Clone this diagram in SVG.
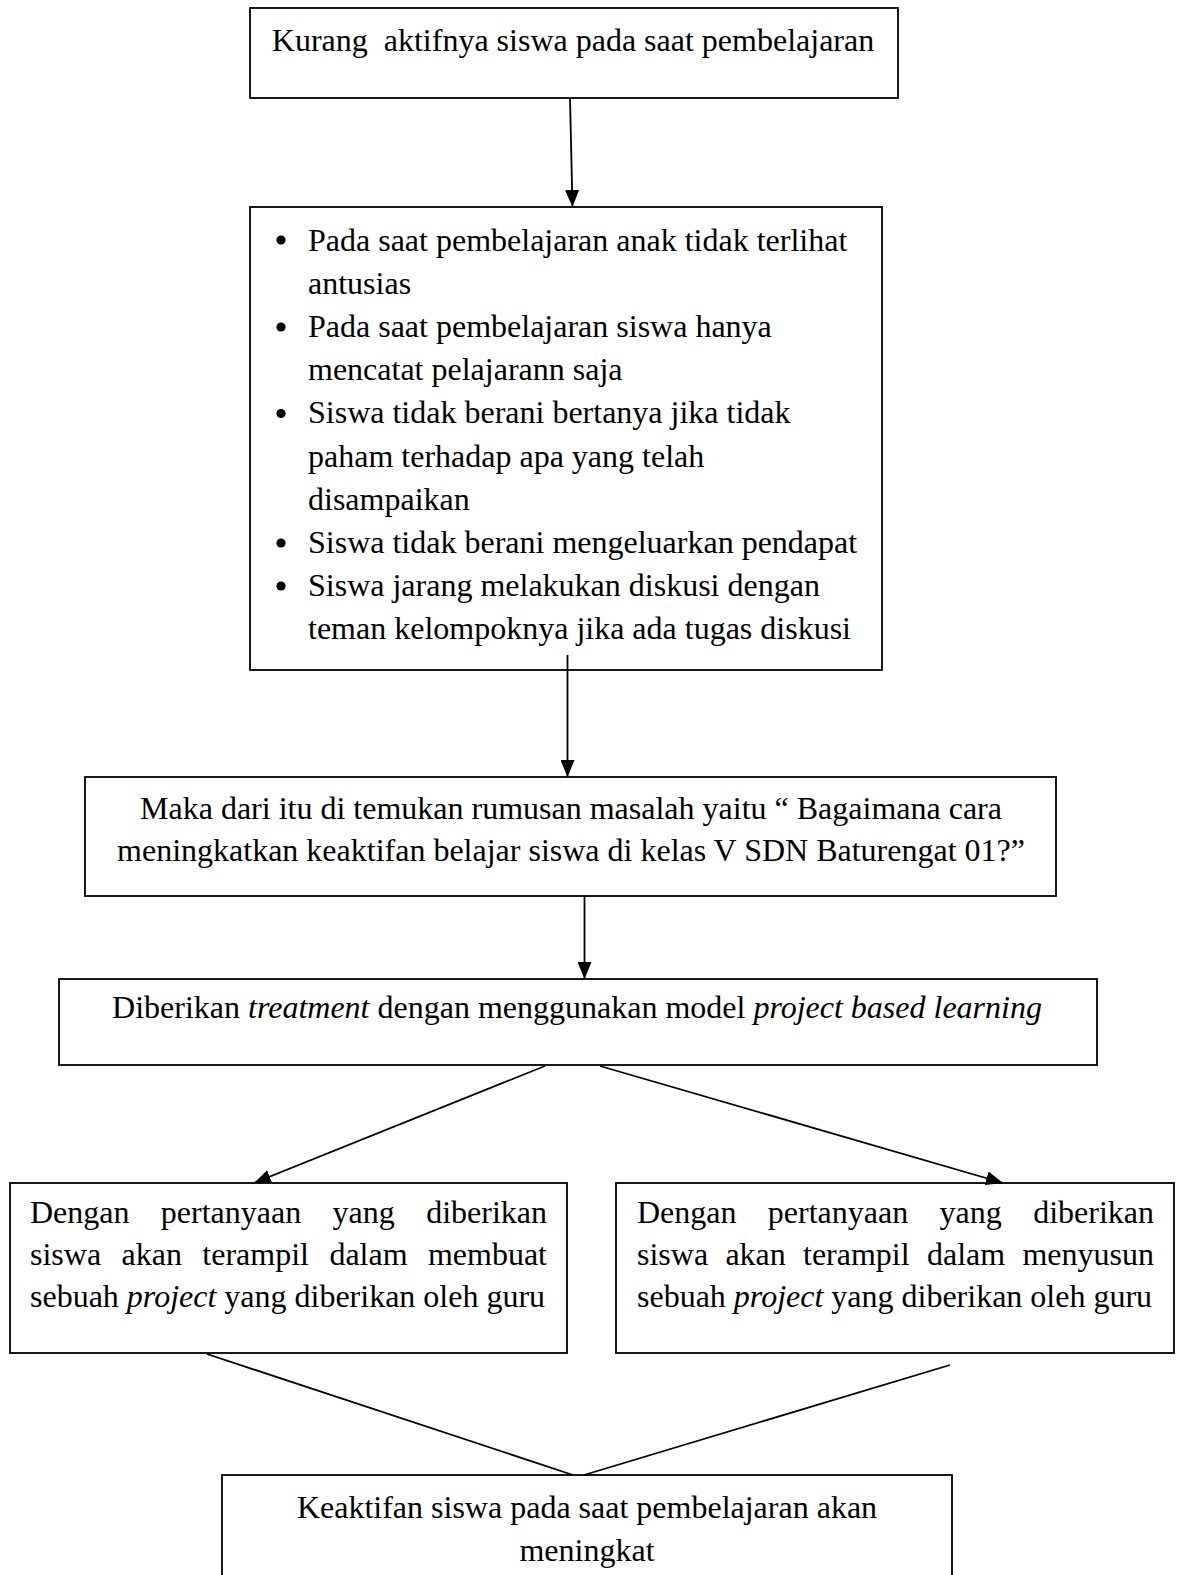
<svg xmlns="http://www.w3.org/2000/svg" width="1178" height="1575" viewBox="0 0 1178 1575">
<style>
.box{fill:#fff;stroke:#000;stroke-width:1.8}
.t{font-family:"Liberation Serif","Times New Roman",serif;font-size:32px;fill:#000}
.c{text-anchor:middle}
.i{font-style:italic}
.ln{stroke:#000;stroke-width:1.8;fill:none}
</style>
<defs>
<marker id="ah" markerUnits="userSpaceOnUse" markerWidth="18" markerHeight="14" refX="17" refY="7" orient="auto">
<path d="M0,0 L17,7 L0,14 Z" fill="#000"/>
</marker>
</defs>
<rect width="1178" height="1575" fill="#fff"/>

<g id="n1">
<rect class="box" x="250" y="8" width="648" height="90"/>
<text class="t c" x="573" y="51" xml:space="preserve">Kurang  aktifnya siswa pada saat pembelajaran</text>
</g>

<g id="n2">
<rect class="box" x="250" y="207" width="632" height="463"/>
<g fill="#000">
<circle cx="281" cy="240" r="4.6"/>
<circle cx="281" cy="327" r="4.6"/>
<circle cx="281" cy="413.5" r="4.6"/>
<circle cx="281" cy="543" r="4.6"/>
<circle cx="281" cy="586" r="4.6"/>
</g>
<text class="t" x="308" y="250.5">Pada saat pembelajaran anak tidak terlihat</text>
<text class="t" x="308" y="293.7">antusias</text>
<text class="t" x="308" y="336.9">Pada saat pembelajaran siswa hanya</text>
<text class="t" x="308" y="380.1">mencatat pelajarann saja</text>
<text class="t" x="308" y="423.3">Siswa tidak berani bertanya jika tidak</text>
<text class="t" x="308" y="466.5">paham terhadap apa yang telah</text>
<text class="t" x="308" y="509.7">disampaikan</text>
<text class="t" x="308" y="552.9">Siswa tidak berani mengeluarkan pendapat</text>
<text class="t" x="308" y="596.1">Siswa jarang melakukan diskusi dengan</text>
<text class="t" x="308" y="639.3">teman kelompoknya jika ada tugas diskusi</text>
</g>

<g id="n3">
<rect class="box" x="85" y="777" width="971" height="119"/>
<text class="t c" x="571" y="819">Maka dari itu di temukan rumusan masalah yaitu “ Bagaimana cara</text>
<text class="t c" x="571" y="861">meningkatkan keaktifan belajar siswa di kelas V SDN Baturengat 01?”</text>
</g>

<g id="n4">
<rect class="box" x="59" y="979" width="1038" height="86"/>
<text class="t c" x="577" y="1018">Diberikan <tspan class="i">treatment</tspan> dengan menggunakan model <tspan class="i">project based learning</tspan></text>
</g>

<g id="n5">
<rect class="box" x="10" y="1183" width="557" height="170"/>
<text class="t" y="1223"><tspan x="30">Dengan</tspan><tspan x="160.8">pertanyaan</tspan><tspan x="332.5">yang</tspan><tspan x="547" text-anchor="end">diberikan</tspan></text>
<text class="t" y="1265"><tspan x="30">siswa</tspan><tspan x="121.5">akan</tspan><tspan x="202.3">terampil</tspan><tspan x="329.4">dalam</tspan><tspan x="547" text-anchor="end">membuat</tspan></text>
<text class="t" x="30" y="1307">sebuah <tspan class="i">project</tspan> yang diberikan oleh guru</text>
</g>

<g id="n6">
<rect class="box" x="616" y="1183" width="558" height="170"/>
<text class="t" y="1223"><tspan x="637">Dengan</tspan><tspan x="767.8">pertanyaan</tspan><tspan x="939.5">yang</tspan><tspan x="1154" text-anchor="end">diberikan</tspan></text>
<text class="t" y="1265"><tspan x="637">siswa</tspan><tspan x="725.4">akan</tspan><tspan x="803">terampil</tspan><tspan x="927">dalam</tspan><tspan x="1154" text-anchor="end">menyusun</tspan></text>
<text class="t" x="637" y="1307">sebuah <tspan class="i">project</tspan> yang diberikan oleh guru</text>
</g>

<g id="n7">
<rect class="box" x="222" y="1475" width="730" height="130"/>
<text class="t c" x="587" y="1518">Keaktifan siswa pada saat pembelajaran akan</text>
<text class="t c" x="587" y="1561">meningkat</text>
</g>

<g id="connectors">
<line class="ln" x1="570" y1="98" x2="572.5" y2="207" marker-end="url(#ah)"/>
<line class="ln" x1="567.5" y1="655" x2="567.5" y2="777" marker-end="url(#ah)"/>
<line class="ln" x1="584.5" y1="896" x2="584.5" y2="979" marker-end="url(#ah)"/>
<line class="ln" x1="545" y1="1066" x2="254" y2="1183" marker-end="url(#ah)"/>
<line class="ln" x1="600" y1="1066" x2="1003" y2="1183" marker-end="url(#ah)"/>
<line class="ln" x1="207" y1="1354" x2="573" y2="1475"/>
<line class="ln" x1="950" y1="1365" x2="584" y2="1475"/>
</g>
</svg>
